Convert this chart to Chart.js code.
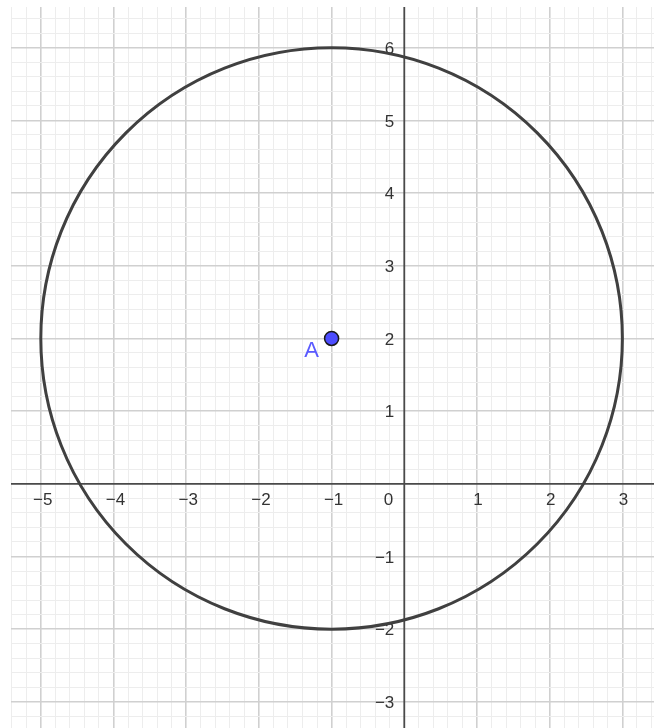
<!DOCTYPE html>
<html>
<head>
<meta charset="utf-8">
<script src="https://cdn.jsdelivr.net/npm/chart.js@4.4.1/dist/chart.umd.min.js"></script>
<style>
  html, body { margin: 0; padding: 0; background: #fff; overflow: hidden; }
  canvas { display: block; }
</style>
</head>
<body>
<canvas id="myChart" width="662" height="728"></canvas>
<script>
  'use strict'

  // view window (graph units)
  const xRange = [-5.41, 3.435]
  const yRange = [-3.36, 6.56]

  // tick labels along the axes
  const xLabels = [-5, -4, -3, -2, -1, 1, 2, 3]
  const yLabels = [-3, -2, -1, 1, 2, 3, 4, 5, 6]

  // point A and the circle round it
  const pointNames = ['A']
  const pointX = [-1]
  const pointY = [2]
  const circleCenter = [-1, 2]
  const circleRadius = [4]

  const fmt = v => (v < 0 ? '\u2212' + Math.abs(v) : String(v))

  // minor grid every 0.2, major every 1
  const gridTicks = (lo, hi) => {
    const out = []
    for (let k = Math.ceil(lo * 5); k <= Math.floor(hi * 5); k++) out.push({ value: k / 5 })
    return out
  }
  const isMajor = v => Math.abs(v - Math.round(v)) < 1e-6
  const gridColor = c => {
    const v = c.tick ? c.tick.value : 0
    if (Math.abs(v) < 1e-6) return 'rgba(0,0,0,0)'
    return isMajor(v) ? '#d0d0d0' : '#ededed'
  }
  const gridWidth = c => (c.tick && isMajor(c.tick.value) ? 1.6 : 1)

  const geoPlugin = {
    id: 'geo',
    beforeDatasetsDraw(chart) {
      const { ctx, chartArea: a, scales: { x, y } } = chart
      const x0 = x.getPixelForValue(0)
      const y0 = y.getPixelForValue(0)
      ctx.save()
      // axes
      ctx.strokeStyle = '#4a4a4a'
      ctx.lineWidth = 1.8
      ctx.beginPath()
      ctx.moveTo(a.left, y0); ctx.lineTo(a.right, y0)
      ctx.moveTo(x0, a.top); ctx.lineTo(x0, a.bottom)
      ctx.stroke()

      // tick labels
      ctx.fillStyle = '#333'
      ctx.font = '17px "Liberation Sans", Arial, sans-serif'
      ctx.textBaseline = 'middle'
      ctx.textAlign = 'center'
      xLabels.forEach(v => {
        ctx.fillText(fmt(v), x.getPixelForValue(v) + (v < 0 ? 2 : 1), y0 + 17)
      })
      ctx.textAlign = 'right'
      yLabels.forEach(v => {
        ctx.fillText(fmt(v), x0 - 10, y.getPixelForValue(v) + 1.5)
      })
      ctx.fillText('0', x0 - 11, y0 + 17)

      // circle
      const cx = x.getPixelForValue(circleCenter[0])
      const cy = y.getPixelForValue(circleCenter[1])
      const rx = Math.abs(x.getPixelForValue(circleCenter[0] + circleRadius[0]) - cx)
      const ry = Math.abs(y.getPixelForValue(circleCenter[1] + circleRadius[0]) - cy)
      ctx.strokeStyle = '#404040'
      ctx.lineWidth = 3
      ctx.beginPath()
      ctx.ellipse(cx, cy, rx, ry, 0, 0, Math.PI * 2)
      ctx.stroke()
      ctx.restore()
    },
    afterDatasetsDraw(chart) {
      const { ctx, scales: { x, y } } = chart
      ctx.save()
      ctx.fillStyle = '#5a5aff'
      ctx.font = '22px "Liberation Sans", Arial, sans-serif'
      ctx.textAlign = 'center'
      ctx.textBaseline = 'middle'
      pointNames.forEach((n, i) => {
        ctx.fillText(n, x.getPixelForValue(pointX[i]) - 20, y.getPixelForValue(pointY[i]) + 13)
      })
      ctx.restore()
    }
  }

  const ctx = document.getElementById('myChart')
  // eslint-disable-next-line no-unused-vars
  const myChart = new Chart(ctx, {
    type: 'scatter',
    data: {
      datasets: [{
        data: pointX.map((v, i) => ({ x: v, y: pointY[i] })),
        pointRadius: 7,
        pointHoverRadius: 7,
        pointBackgroundColor: '#4d4dff',
        pointBorderColor: '#1a1a1a',
        pointBorderWidth: 1.5
      }]
    },
    options: {
      responsive: false,
      animation: false,
      layout: { autoPadding: false, padding: { left: 11, top: 7, right: 8, bottom: 0 } },
      plugins: {
        legend: { display: false },
        tooltip: { enabled: false }
      },
      scales: {
        x: {
          type: 'linear',
          min: xRange[0],
          max: xRange[1],
          afterBuildTicks: s => { s.ticks = gridTicks(xRange[0], xRange[1]) },
          afterFit: s => { s.height = 0 },
          ticks: { display: false },
          border: { display: false },
          grid: { drawTicks: false, color: gridColor, lineWidth: gridWidth }
        },
        y: {
          type: 'linear',
          min: yRange[0],
          max: yRange[1],
          afterBuildTicks: s => { s.ticks = gridTicks(yRange[0], yRange[1]) },
          afterFit: s => { s.width = 0 },
          ticks: { display: false },
          border: { display: false },
          grid: { drawTicks: false, color: gridColor, lineWidth: gridWidth }
        }
      }
    },
    plugins: [geoPlugin]
  })
</script>
</body>
</html>
